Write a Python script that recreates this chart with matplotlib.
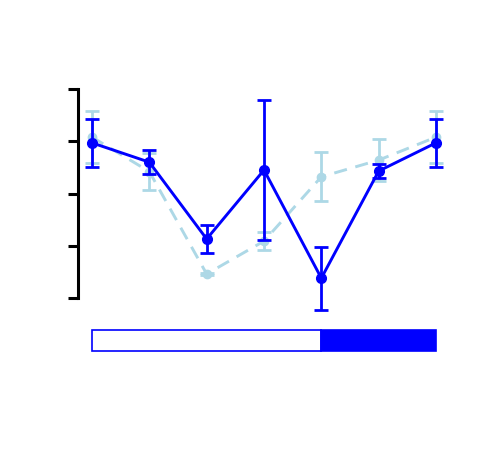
import matplotlib
matplotlib.use("Agg")
import matplotlib.pyplot as plt
from matplotlib.patches import Rectangle

x = [1, 2, 3, 4, 5, 6, 7]
dark_mean = [2.97, 2.60, 1.13, 2.45, 0.38, 2.43, 2.97]
dark_err = [0.46, 0.23, 0.26, 1.34, 0.60, 0.14, 0.46]
light_mean = [3.08, 2.42, 0.46, 1.09, 2.32, 2.64, 3.08]
light_err = [0.50, 0.35, 0.02, 0.17, 0.47, 0.40, 0.49]
yticks = [0, 1, 2, 3, 4]
# condition bar: white segment then filled segment
bar_segments = [(1, 5, "white"), (5, 7, "blue")]
bar_y = (-1.01, -0.61)

fig = plt.figure(figsize=(4.9, 4.6), dpi=100)
ax = fig.add_axes([78/490, 1-360/460, (450-78)/490, (360-80)/460])

ax.errorbar(x, light_mean, yerr=light_err, color="lightblue", linestyle="--",
            linewidth=2.1, marker="o", markersize=6, capsize=5, capthick=2.0,
            elinewidth=2.0, dashes=(4.5, 3), zorder=2)
ax.errorbar(x, dark_mean, yerr=dark_err, color="blue", linestyle="-",
            linewidth=2.1, marker="o", markersize=7, capsize=5, capthick=2.0,
            elinewidth=2.0, zorder=3)

for x0, x1, c in bar_segments:
    ax.add_patch(Rectangle((x0, bar_y[0]), x1 - x0, bar_y[1] - bar_y[0],
                           facecolor=c, edgecolor="blue", linewidth=1.2,
                           clip_on=False))

ax.set_xlim(0.756, 7.244)
ax.set_ylim(-1.167, 4.192)
for s in ["top", "right", "bottom"]:
    ax.spines[s].set_visible(False)
ax.spines["left"].set_bounds(0, 4)
ax.spines["left"].set_linewidth(2.2)
ax.set_yticks(yticks)
ax.set_yticklabels([])
ax.tick_params(axis="y", length=7, width=2.2)
ax.set_xticks([])

fig.savefig("out.png", dpi=100)
